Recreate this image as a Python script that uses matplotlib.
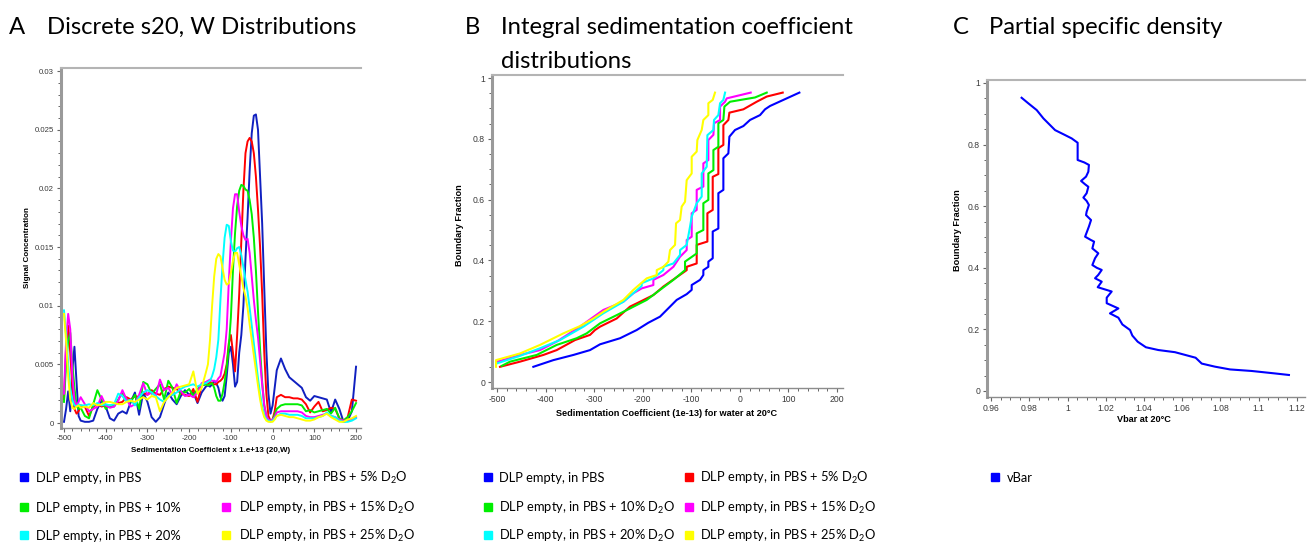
import matplotlib
matplotlib.use('Agg')
import matplotlib.pyplot as plt
from matplotlib.lines import Line2D
from matplotlib.ticker import MultipleLocator, FuncFormatter

plt.rcParams['axes.unicode_minus'] = False
plt.rcParams['mathtext.fontset'] = 'custom'
plt.rcParams['mathtext.rm'] = 'Lato'
plt.rcParams['mathtext.it'] = 'Lato:italic'
plt.rcParams['mathtext.bf'] = 'Lato:bold'
plt.rcParams['font.family'] = ['Liberation Sans', 'DejaVu Sans']

# ---------------- data ----------------
# A: discrete s20,w distributions (signal in units of 1e-3)
sA = [-500, -495, -490, -485, -480, -475, -470, -465, -460,
      -450, -440, -430, -420, -410, -400, -390, -380, -370, -360,
      -350, -340, -330, -320, -310, -300, -290, -280, -270, -260,
      -250, -240, -230, -220, -210, -200, -190, -180, -170, -160,
      -155, -150, -145, -140, -135, -130, -125, -120, -115, -110,
      -105, -100, -95, -90, -85, -80, -75, -70, -65, -60,
      -55, -50, -45, -40, -35, -30, -25, -20, -15, -10,
      -5, 0, 5, 10,
      20, 30, 40, 50, 60, 70, 80, 90, 100, 110,
      120, 130, 140, 150, 160, 170, 180, 190, 200]

a_pbs = [0.1, 1.2, 2.7, 1.0, 4.5, 6.5, 3.5, 0.6, 0.2,
         0.1, 0.1, 0.2, 1.2, 1.9, 1.4, 0.4, 0.2, 0.8, 1.0,
         0.8, 1.8, 2.6, 0.7, 2.6, 1.8, 0.5, 0.1, 0.5, 1.6,
         2.6, 2.0, 1.6, 2.3, 2.8, 2.4, 2.6, 1.7, 2.6, 3.1,
         3.2, 3.1, 3.3, 3.6, 3.4, 3.0, 2.2, 1.9, 2.3, 4.0,
         6.0, 6.5, 5.0, 3.1, 3.5, 6.0, 7.5, 10.0, 14.0, 17.5,
         21.5, 24.7, 26.2, 26.3, 25.0, 21.0, 17.0, 11.5, 6.2, 2.5,
         0.8, 1.5, 3.0, 4.5,
         5.5, 4.6, 3.9, 3.6, 3.3, 3.0, 2.2, 1.9, 2.3, 2.2,
         2.1, 2.0, 0.9, 2.0, 1.2, 0.1, 0.2, 1.0, 4.8]

a_d5 = [2.0, 6.5, 8.3, 6.0, 3.0, 1.2, 0.8, 1.0, 1.5,
        1.4, 0.6, 1.4, 1.6, 1.4, 1.5, 1.4, 1.6, 1.7, 1.8,
        2.2, 2.0, 2.3, 2.2, 2.6, 2.4, 2.8, 2.5, 2.4, 2.9,
        3.1, 3.0, 2.9, 2.5, 2.4, 2.3, 2.9, 1.8, 3.2, 3.3,
        3.3, 3.5, 3.4, 3.3, 3.3, 3.5, 3.6, 3.8, 4.2, 5.0,
        6.8, 7.5, 6.0, 4.4, 7.5, 11.0, 15.5, 19.8, 23.0, 24.0,
        24.3, 24.0, 23.0, 21.0, 18.2, 15.0, 11.0, 6.0, 2.5, 0.6,
        0.2, 0.3, 1.0, 2.2,
        2.4, 2.2, 2.2, 2.1, 2.1, 2.0, 1.6, 0.9, 1.4, 1.8,
        1.0, 1.1, 1.3, 1.2, 0.4, 0.2, 0.5, 2.0, 1.9]

a_d10 = [1.8, 5.0, 7.0, 7.7, 5.0, 3.0, 1.5, 1.2, 1.3,
         0.6, 0.4, 1.6, 2.8, 2.0, 1.2, 1.5, 1.4, 2.0, 2.6,
         2.0, 1.8, 2.4, 1.2, 3.5, 3.3, 2.5, 2.9, 3.3, 2.0,
         3.6, 3.0, 1.7, 2.7, 2.6, 2.9, 2.3, 2.9, 3.2, 3.3,
         3.2, 3.3, 3.4, 3.0, 2.3, 1.9, 1.9, 2.5, 3.5, 4.8,
         6.5, 9.0, 13.0, 16.2, 18.5, 19.8, 20.3, 20.2, 19.9, 19.8,
         19.0, 17.8, 15.8, 13.0, 9.5, 6.3, 3.5, 1.5, 0.6, 0.3,
         0.2, 0.3, 0.7, 1.2,
         1.5, 1.6, 1.6, 1.6, 1.6, 1.5, 1.0, 1.1, 0.9, 1.0,
         1.1, 1.2, 0.8, 1.3, 0.4, 0.2, 0.5, 1.0, 1.7]

a_d15 = [2.5, 7.0, 9.3, 8.0, 4.0, 2.0, 1.5, 1.8, 2.2,
         1.6, 1.0, 1.2, 1.4, 2.3, 1.5, 1.3, 1.4, 1.9, 2.8,
         2.0, 1.4, 1.6, 2.4, 3.4, 2.4, 2.6, 2.3, 3.7, 2.8,
         3.0, 2.4, 3.3, 2.7, 2.3, 2.4, 2.2, 2.6, 3.4, 3.5,
         3.6, 3.7, 3.6, 3.6, 3.5, 3.8, 4.0, 5.0, 6.0, 8.0,
         12.0, 15.5, 18.3, 19.5, 19.5, 18.0, 16.8, 16.0, 15.6, 15.7,
         14.5, 12.5, 10.5, 8.8, 7.3, 5.3, 3.3, 1.5, 0.6, 0.3,
         0.2, 0.3, 0.5, 0.9,
         1.0, 1.0, 1.0, 1.0, 1.0, 0.9, 0.6, 0.5, 0.5, 0.6,
         0.7, 0.8, 0.6, 0.5, 0.3, 0.2, 0.2, 0.3, 0.5]

a_d20 = [9.6, 7.5, 5.0, 3.0, 2.0, 1.5, 1.4, 1.6, 1.5,
         1.5, 1.6, 1.5, 1.7, 1.5, 1.6, 1.5, 1.6, 2.5, 2.3,
         1.8, 2.0, 1.5, 2.2, 2.6, 2.8, 2.6, 2.3, 2.0, 1.8,
         2.3, 2.4, 2.6, 2.9, 3.1, 3.2, 3.3, 3.1, 3.3, 3.4,
         3.5, 3.6, 4.0, 4.6, 5.6, 7.1, 10.5, 13.5, 15.8, 16.9,
         16.8, 15.5, 14.7, 14.6, 14.9, 15.0, 14.3, 13.3, 12.2, 11.2,
         9.8, 8.3, 6.8, 5.3, 3.8, 2.5, 1.4, 0.7, 0.3, 0.2,
         0.1, 0.2, 0.4, 0.6,
         0.8, 0.8, 0.7, 0.7, 0.7, 0.6, 0.4, 0.4, 0.4, 0.5,
         0.6, 0.9, 0.6, 0.5, 0.2, 0.1, 0.1, 0.2, 0.4]

a_d25 = [9.3, 7.0, 4.0, 2.0, 1.3, 1.2, 1.4, 1.5, 1.3,
         1.4, 1.3, 1.7, 1.5, 1.6, 1.8, 1.8, 1.7, 1.6, 1.6,
         1.8, 1.9, 1.8, 2.0, 2.2, 2.0, 2.3, 2.2, 1.0, 1.8,
         2.2, 2.6, 3.0, 3.1, 3.2, 3.3, 4.4, 2.5, 3.0, 4.3,
         5.0, 7.1, 10.0, 12.5, 14.0, 14.4, 14.2, 13.2, 12.2, 11.8,
         11.9, 12.8, 13.8, 14.5, 14.5, 13.5, 12.5, 11.5, 10.8, 9.8,
         8.4, 7.1, 5.8, 4.5, 3.2, 2.0, 1.1, 0.5, 0.2, 0.1,
         0.1, 0.1, 0.3, 0.6,
         0.7, 0.6, 0.5, 0.5, 0.4, 0.3, 0.2, 0.2, 0.3, 0.5,
         0.6, 0.8, 0.5, 0.3, 0.1, 0.1, 0.3, 0.4, 0.6]

# B: integral distributions (s, boundary fraction)
b_pbs_s = [-425.2, -384.0, -342.8, -308.5, -287.9, -246.7, -212.4, -188.4, -164.4,
           -143.8, -130.1, -109.5, -99.2, -99.2, -82.0, -75.2, -75.2, -64.9, -64.9,
           -55.9, -55.9, -44.3, -44.3, -34.0, -34.0, -23.7, -21.6, -10.0, 7.2,
           20.9, 41.5, 51.8, 62.1, 122.5]
b_pbs_f = [0.050, 0.072, 0.089, 0.105, 0.124, 0.144, 0.171, 0.195, 0.215,
           0.248, 0.270, 0.289, 0.303, 0.319, 0.336, 0.352, 0.368, 0.379, 0.396,
           0.407, 0.495, 0.505, 0.621, 0.632, 0.736, 0.752, 0.807, 0.829, 0.842,
           0.862, 0.878, 0.897, 0.908, 0.952]

b_d5_s = [-493.8, -452.6, -404.6, -377.1, -339.4, -308.5, -298.2, -287.9, -253.6,
          -226.2, -205.6, -178.1, -157.5, -133.5, -109.5, -109.5, -88.9, -88.9, -66.9,
          -66.9, -55.9, -55.9, -44.3, -44.3, -34.0, -34.0, -23.7, -21.6, 7.2,
          34.7, 55.3, 88.2]
b_d5_f = [0.050, 0.067, 0.089, 0.105, 0.138, 0.155, 0.171, 0.182, 0.209,
          0.248, 0.264, 0.286, 0.314, 0.341, 0.368, 0.379, 0.390, 0.451, 0.462,
          0.555, 0.566, 0.675, 0.684, 0.769, 0.780, 0.845, 0.862, 0.886, 0.897,
          0.922, 0.939, 0.952]

b_d10_s = [-490.4, -473.2, -418.3, -377.1, -336.0, -315.4, -287.9, -253.6, -226.2,
           -191.8, -164.4, -136.9, -112.9, -112.9, -88.9, -88.9, -75.2, -75.2, -64.9,
           -64.9, -54.5, -54.5, -44.3, -44.3, -34.0, -31.9, -20.2, 31.2, 55.3]
b_d10_f = [0.053, 0.067, 0.089, 0.122, 0.144, 0.160, 0.193, 0.220, 0.242,
           0.270, 0.303, 0.336, 0.368, 0.396, 0.423, 0.489, 0.500, 0.588, 0.599,
           0.686, 0.697, 0.763, 0.774, 0.851, 0.862, 0.906, 0.922, 0.936, 0.952]

b_d15_s = [-499.3, -452.6, -411.5, -377.1, -329.1, -315.4, -281.1, -239.9, -219.3,
           -202.1, -178.1, -178.1, -157.5, -136.9, -123.2, -109.5, -109.5, -99.2, -99.2,
           -88.9, -88.9, -75.2, -75.2, -64.9, -64.9, -54.5, -53.2, -40.8, -40.8,
           -30.5, -27.1, 22.3]
b_d15_f = [0.067, 0.089, 0.105, 0.133, 0.182, 0.198, 0.237, 0.264, 0.292,
           0.308, 0.319, 0.336, 0.352, 0.379, 0.412, 0.434, 0.467, 0.478, 0.555,
           0.566, 0.632, 0.643, 0.719, 0.730, 0.796, 0.813, 0.851, 0.862, 0.906,
           0.922, 0.933, 0.952]

b_d20_s = [-500.7, -452.6, -411.5, -370.3, -322.2, -281.1, -239.9, -202.1, -202.1,
           -178.1, -157.5, -157.5, -136.9, -123.2, -123.2, -109.5, -102.6, -99.2, -88.9,
           -78.6, -78.6, -68.3, -66.9, -54.5, -53.2, -44.3, -40.8, -34.0, -30.5]
b_d20_f = [0.061, 0.086, 0.111, 0.138, 0.182, 0.226, 0.264, 0.316, 0.325,
           0.341, 0.368, 0.379, 0.390, 0.418, 0.434, 0.451, 0.511, 0.544, 0.588,
           0.610, 0.686, 0.708, 0.812, 0.829, 0.862, 0.878, 0.917, 0.928, 0.952]

b_d25_s = [-502.0, -502.0, -452.6, -411.5, -363.4, -329.1, -301.6, -281.1, -239.9,
           -219.3, -191.8, -171.2, -171.2, -157.5, -147.2, -143.8, -133.5, -131.4, -123.2,
           -119.8, -112.9, -109.5, -99.2, -99.2, -88.9, -87.5, -78.6, -75.2, -64.9,
           -64.9, -55.9, -51.2]
b_d25_f = [0.050, 0.072, 0.094, 0.122, 0.160, 0.184, 0.209, 0.231, 0.270,
           0.303, 0.341, 0.352, 0.368, 0.379, 0.396, 0.434, 0.451, 0.522, 0.533,
           0.577, 0.593, 0.664, 0.686, 0.741, 0.758, 0.796, 0.829, 0.862, 0.878,
           0.917, 0.928, 0.952]

# C: partial specific volume vs boundary fraction
c_vbar = [0.9760, 0.9795, 0.9839, 0.9874, 0.9935, 0.9987, 1.0022, 1.0053, 1.0053,
          1.0088, 1.0112, 1.0109, 1.0097, 1.0071, 1.0092, 1.0109, 1.0100, 1.0083, 1.0100,
          1.0112, 1.0100, 1.0097, 1.0123, 1.0112, 1.0092, 1.0123, 1.0139, 1.0130, 1.0161,
          1.0144, 1.0130, 1.0153, 1.0179, 1.0161, 1.0144, 1.0179, 1.0158, 1.0231, 1.0205,
          1.0205, 1.0266, 1.0222, 1.0266, 1.0287, 1.0327, 1.0339, 1.0367, 1.0410, 1.0475,
          1.0562, 1.0670, 1.0702, 1.0771, 1.0850, 1.0963, 1.1085, 1.1158]
c_frac = [0.952, 0.934, 0.912, 0.885, 0.847, 0.831, 0.820, 0.806, 0.750,
          0.742, 0.734, 0.712, 0.696, 0.682, 0.671, 0.663, 0.642, 0.628, 0.617,
          0.604, 0.582, 0.571, 0.555, 0.534, 0.501, 0.490, 0.485, 0.463, 0.447,
          0.431, 0.409, 0.400, 0.393, 0.377, 0.366, 0.355, 0.337, 0.323, 0.303,
          0.285, 0.268, 0.252, 0.238, 0.216, 0.198, 0.180, 0.160, 0.142, 0.133,
          0.126, 0.108, 0.089, 0.079, 0.070, 0.065, 0.057, 0.052]

colors = ['#0000ff', '#ff0000', '#00ee00', '#ff00ff', '#00ffff', '#ffff00']
colors_a = ['#1020c0'] + colors[1:]

legend_a = ['DLP empty, in PBS', 'DLP empty, in PBS + 5% D$_2$O',
            'DLP empty, in PBS + 10%', 'DLP empty, in PBS + 15% D$_2$O',
            'DLP empty, in PBS + 20%', 'DLP empty, in PBS + 25% D$_2$O']
legend_b = ['DLP empty, in PBS', 'DLP empty, in PBS + 5% D$_2$O',
            'DLP empty, in PBS + 10% D$_2$O', 'DLP empty, in PBS + 15% D$_2$O',
            'DLP empty, in PBS + 20% D$_2$O', 'DLP empty, in PBS + 25% D$_2$O']
legend_c = ['vBar']

# ---------------- figure ----------------
W, H = 1314, 543
fig = plt.figure(figsize=(W / 100, H / 100), dpi=100)


def fx(x):
    return x / W


def fy(y):
    return 1 - y / H


def box(l, t, r, b):
    return [l / W, 1 - b / H, (r - l) / W, (b - t) / H]


def style(ax, xmaj, xmin, ymaj, ymin, fs):
    ax.spines['right'].set_visible(False)
    ax.spines['left'].set_color('#9a9a9a')
    ax.spines['left'].set_linewidth(2.2)
    ax.spines['top'].set_color('#b4b4b4')
    ax.spines['top'].set_linewidth(1.5)
    ax.spines['bottom'].set_color('#8c8c8c')
    ax.spines['bottom'].set_linewidth(1.0)
    ax.xaxis.set_major_locator(MultipleLocator(xmaj))
    ax.xaxis.set_minor_locator(MultipleLocator(xmin))
    ax.yaxis.set_major_locator(MultipleLocator(ymaj))
    ax.yaxis.set_minor_locator(MultipleLocator(ymin))
    fmt = FuncFormatter(lambda v, p: '%g' % round(v, 6))
    ax.xaxis.set_major_formatter(fmt)
    ax.yaxis.set_major_formatter(fmt)
    ax.tick_params(which='both', direction='out', colors='#666666',
                   labelcolor='#3a3a3a', labelsize=fs, top=False, right=False)
    ax.tick_params(which='major', length=3, width=0.8, pad=2)
    ax.tick_params(which='minor', length=2, width=0.7)


def legend(entries, cols, x_sq, x_txt, rows, fs=9.3):
    for i, (lab, c) in enumerate(entries):
        r, k = divmod(i, cols)
        fig.add_artist(Line2D([fx(x_sq[k])], [fy(rows[r] - 5)], transform=fig.transFigure,
                              marker='s', markersize=5.5, color=c, linestyle='None'))
        fig.text(fx(x_txt[k]), fy(rows[r]), lab, fontsize=fs, family='Lato',
                 va='baseline', ha='left')


title_kw = dict(fontsize=17.2, family='Lato', va='baseline', ha='left')

# ---- A ----
axA = fig.add_axes(box(61, 68, 361, 428))
for ys, c in zip([a_pbs, a_d5, a_d10, a_d15, a_d20, a_d25], colors_a):
    axA.plot(sA, [v * 1e-3 for v in ys], color=c, lw=1.4)
axA.set_xlim(-507.2, 211.9)
axA.set_ylim(-0.000426, 0.03026)
style(axA, 100, 20, 0.005, 0.001, 5.6)
axA.set_xlabel('Sedimentation Coefficient x 1.e+13 (20,W)', fontsize=5.8,
               fontweight='bold', va='center')
axA.xaxis.set_label_coords(0.497, (428 - 451) / 360)
axA.set_ylabel('Signal Concentration', fontsize=5.8, fontweight='bold', va='center')
axA.yaxis.set_label_coords((28 - 61) / 300, 0.5)
fig.text(fx(9), fy(34), 'A', **title_kw)
fig.text(fx(47), fy(34), 'Discrete s20, W Distributions', **title_kw)

# ---- B ----
axB = fig.add_axes(box(492, 75, 843, 388))
for xs, ys, c in zip([b_pbs_s, b_d5_s, b_d10_s, b_d15_s, b_d20_s, b_d25_s],
                     [b_pbs_f, b_d5_f, b_d10_f, b_d15_f, b_d20_f, b_d25_f], colors):
    axB.plot(xs, ys, color=c, lw=1.5)
axB.set_xlim(-510.3, 212.3)
axB.set_ylim(-0.0197, 1.0099)
style(axB, 100, 20, 0.2, 0.05, 6.2)
axB.set_xlabel('Sedimentation Coefficient (1e-13) for water at 20°C', fontsize=6.6,
               fontweight='bold', va='center')
axB.xaxis.set_label_coords(0.496, (388 - 413) / 313)
axB.set_ylabel('Boundary Fraction', fontsize=6.6, fontweight='bold', va='center')
axB.yaxis.set_label_coords((460 - 492) / 351, 0.52)
fig.text(fx(465), fy(34), 'B', **title_kw)
fig.text(fx(501), fy(34), 'Integral sedimentation coefficient', **title_kw)
fig.text(fx(501), fy(68), 'distributions', **title_kw)

# ---- C ----
axC = fig.add_axes(box(987, 80, 1305, 397))
axC.plot(c_vbar, c_frac, color=colors[0], lw=1.5)
axC.set_xlim(0.9579, 1.1242)
axC.set_ylim(-0.0195, 1.0097)
style(axC, 0.02, 0.005, 0.2, 0.05, 6.2)
axC.set_xlabel('Vbar at 20°C', fontsize=6.6, fontweight='bold', va='center')
axC.xaxis.set_label_coords(0.494, (397 - 419) / 317)
axC.set_ylabel('Boundary Fraction', fontsize=6.6, fontweight='bold', va='center')
axC.yaxis.set_label_coords((958 - 987) / 318, 0.525)
fig.text(fx(953), fy(34), 'C', **title_kw)
fig.text(fx(989), fy(34), 'Partial specific density', **title_kw)

# ---- legends ----
rows = [482, 512, 540]
legend(list(zip(legend_a, colors)), 2, [24, 226], [36, 239], rows)
legend(list(zip(legend_b, colors)), 2, [488, 689], [499, 700], rows)
legend(list(zip(legend_c, colors)), 1, [995], [1007], rows)

fig.savefig('out.png', dpi=100)
